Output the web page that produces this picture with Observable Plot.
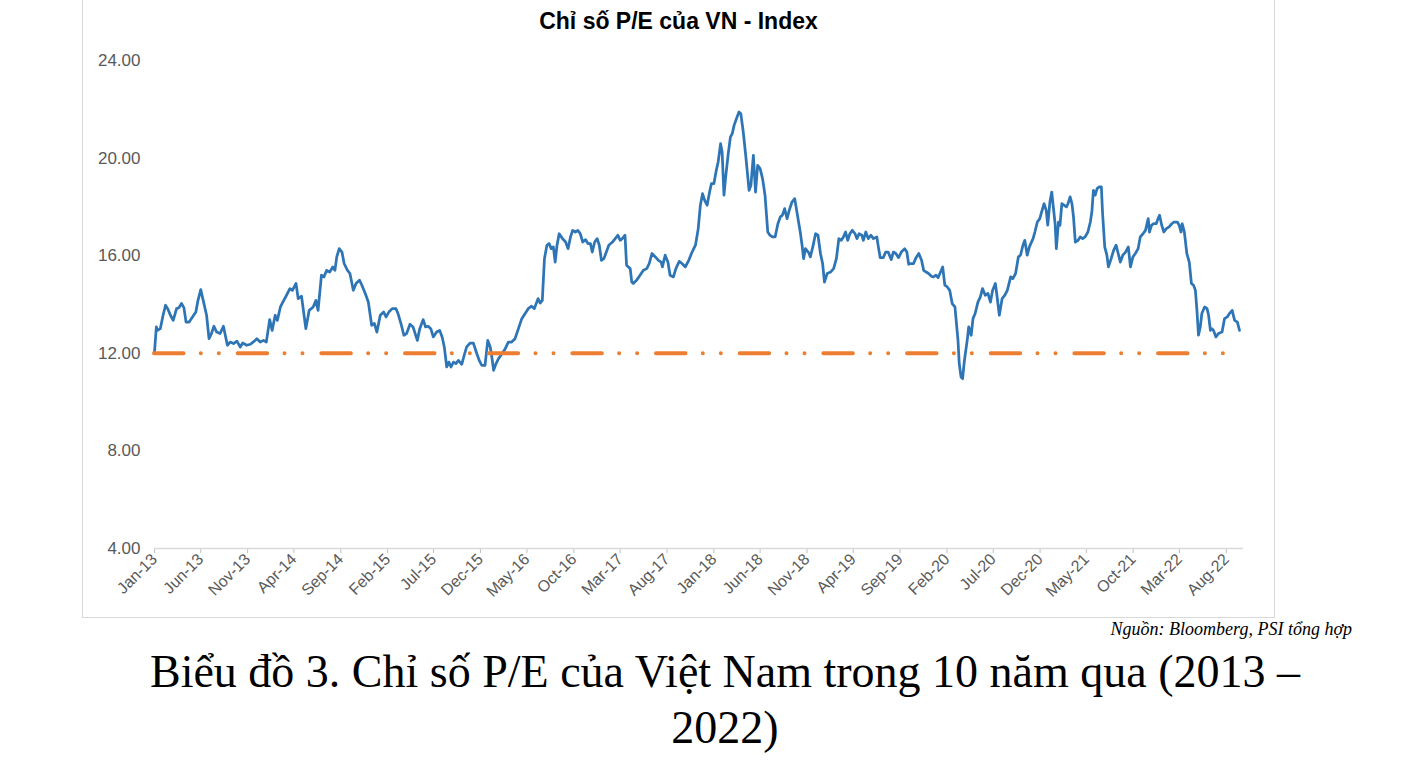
<!DOCTYPE html>
<html><head><meta charset="utf-8">
<script src="https://cdn.jsdelivr.net/npm/d3@7"></script>
<script src="https://cdn.jsdelivr.net/npm/@observablehq/plot@0.6"></script>
<style>
body{margin:0;background:#fff;}
#page{position:relative;width:1404px;height:766px;overflow:hidden;font-family:"Liberation Sans",Arial,sans-serif;}
#frame{position:absolute;left:82px;top:-2px;width:1193px;height:620px;border:1px solid #d9d9d9;box-sizing:border-box;}
#title{position:absolute;left:82px;width:1193px;top:8px;text-align:center;font-weight:bold;font-size:23px;color:#000;}
#chart{position:absolute;left:82px;top:0;}
#source{position:absolute;right:52px;top:619px;font-family:"Liberation Serif","Times New Roman",serif;font-style:italic;font-size:18px;color:#000;}
#caption{position:absolute;left:0;width:1450px;top:644px;text-align:center;font-family:"Liberation Serif","Times New Roman",serif;font-size:46px;line-height:56px;color:#000;}
</style>
</head><body>
<div id="page">
  <div id="frame"></div>
  <div id="title">Chỉ số P/E của VN - Index</div>
  <div id="chart"></div>
  <div id="source">Nguồn: Bloomberg, PSI tổng hợp</div>
  <div id="caption">Biểu đồ 3. Chỉ số P/E của Việt Nam trong 10 năm qua (2013 –<br>2022)</div>
</div>
<script>
const peDates = [
"2013-01-01","2013-01-07","2013-01-11","2013-01-20","2013-01-29","2013-02-06","2013-02-13","2013-02-22","2013-03-03","2013-03-14",
"2013-03-22","2013-03-30","2013-04-07","2013-04-14","2013-04-24","2013-05-05","2013-05-16","2013-05-23","2013-06-01","2013-06-09",
"2013-06-20","2013-06-28","2013-07-06","2013-07-14","2013-07-23","2013-08-03","2013-08-14","2013-08-27","2013-09-05","2013-09-16",
"2013-09-27","2013-10-08","2013-10-16","2013-10-29","2013-11-10","2013-11-23","2013-12-01","2013-12-12","2013-12-23","2014-01-01",
"2014-01-12","2014-01-20","2014-01-30","2014-02-06","2014-02-16","2014-02-27","2014-03-08","2014-03-19","2014-03-27","2014-04-08",
"2014-04-15","2014-04-26","2014-05-10","2014-05-21","2014-06-03","2014-06-12","2014-06-19","2014-06-30","2014-07-08","2014-07-17",
"2014-07-27","2014-08-06","2014-08-13","2014-08-19","2014-08-27","2014-09-05","2014-09-12","2014-09-23","2014-10-01","2014-10-12",
"2014-10-21","2014-11-01","2014-11-09","2014-11-20","2014-11-30","2014-12-11","2014-12-20","2014-12-28","2015-01-08","2015-01-19",
"2015-01-27","2015-02-05","2015-02-16","2015-02-28","2015-03-07","2015-03-18","2015-03-26","2015-04-04","2015-04-15","2015-04-25",
"2015-05-09","2015-05-17","2015-05-28","2015-06-05","2015-06-13","2015-06-22","2015-06-30","2015-07-11","2015-07-21","2015-07-29",
"2015-08-05","2015-08-13","2015-08-20","2015-08-27","2015-09-04","2015-09-12","2015-09-20","2015-10-01","2015-10-09","2015-10-17",
"2015-10-28","2015-11-08","2015-11-19","2015-11-27","2015-12-05","2015-12-16","2015-12-25","2016-01-02","2016-01-08","2016-01-13",
"2016-01-21","2016-01-29","2016-02-10","2016-02-20","2016-03-01","2016-03-12","2016-03-23","2016-04-03","2016-04-14","2016-04-25",
"2016-05-05","2016-05-16","2016-05-25","2016-06-06","2016-06-13","2016-06-20","2016-06-27","2016-07-05","2016-07-12","2016-07-19",
"2016-07-26","2016-08-01","2016-08-07","2016-08-14","2016-08-25","2016-09-04","2016-09-12","2016-09-20","2016-09-27","2016-10-06",
"2016-10-14","2016-10-22","2016-10-30","2016-11-08","2016-11-16","2016-11-24","2016-11-30","2016-12-08","2016-12-16","2016-12-23",
"2016-12-30","2017-01-07","2017-01-15","2017-01-23","2017-02-04","2017-02-13","2017-02-22","2017-03-01","2017-03-08","2017-03-17",
"2017-03-22","2017-04-03","2017-04-08","2017-04-13","2017-04-24","2017-05-05","2017-05-16","2017-05-27","2017-06-04","2017-06-13",
"2017-06-24","2017-07-04","2017-07-13","2017-07-17","2017-07-26","2017-08-04","2017-08-11","2017-08-22","2017-08-30","2017-09-10",
"2017-09-19","2017-09-30","2017-10-11","2017-10-22","2017-11-02","2017-11-11","2017-11-18","2017-11-25","2017-12-02","2017-12-10",
"2017-12-18","2017-12-24","2018-01-01","2018-01-09","2018-01-15","2018-01-23","2018-01-28","2018-02-03","2018-02-08","2018-02-17",
"2018-02-24","2018-03-02","2018-03-08","2018-03-16","2018-03-24","2018-03-30","2018-04-07","2018-04-15","2018-04-26","2018-05-02",
"2018-05-10","2018-05-17","2018-05-24","2018-06-01","2018-06-09","2018-06-17","2018-06-26","2018-07-03","2018-07-11","2018-07-20",
"2018-07-29","2018-08-06","2018-08-13","2018-08-20","2018-08-28","2018-09-04","2018-09-13","2018-09-22","2018-09-29","2018-10-10",
"2018-10-16","2018-10-21","2018-10-27","2018-11-07","2018-11-12","2018-11-20","2018-11-29","2018-12-07","2018-12-15","2018-12-22",
"2018-12-28","2019-01-06","2019-01-17","2019-01-27","2019-02-05","2019-02-13","2019-02-21","2019-02-28","2019-03-07","2019-03-14",
"2019-03-21","2019-03-29","2019-04-07","2019-04-13","2019-04-20","2019-04-29","2019-05-04","2019-05-12","2019-05-20","2019-05-29",
"2019-06-06","2019-06-17","2019-06-22","2019-06-28","2019-07-08","2019-07-16","2019-07-24","2019-08-03","2019-08-10","2019-08-18",
"2019-08-27","2019-09-05","2019-09-16","2019-09-23","2019-09-29","2019-10-07","2019-10-15","2019-10-23","2019-11-01","2019-11-10",
"2019-11-17","2019-11-25","2019-12-03","2019-12-12","2019-12-19","2019-12-27","2020-01-03","2020-01-11","2020-01-18","2020-01-25",
"2020-02-02","2020-02-10","2020-02-18","2020-02-27","2020-03-01","2020-03-08","2020-03-12","2020-03-18","2020-03-23","2020-03-29",
"2020-04-07","2020-04-12","2020-04-20","2020-04-26","2020-05-03","2020-05-12","2020-05-20","2020-05-27","2020-06-05","2020-06-14",
"2020-06-22","2020-06-29","2020-07-08","2020-07-13","2020-07-21","2020-07-30","2020-08-08","2020-08-16","2020-08-27","2020-09-03",
"2020-09-12","2020-09-21","2020-09-28","2020-10-06","2020-10-12","2020-10-20","2020-10-27","2020-11-08","2020-11-14","2020-11-22",
"2020-11-30","2020-12-06","2020-12-14","2020-12-21","2020-12-26","2021-01-02","2021-01-08","2021-01-12","2021-01-19","2021-01-23",
"2021-01-30","2021-02-04","2021-02-10","2021-02-17","2021-02-25","2021-03-02","2021-03-09","2021-03-15","2021-03-20","2021-03-26",
"2021-04-04","2021-04-11","2021-04-19","2021-04-27","2021-05-06","2021-05-14","2021-05-19","2021-05-24","2021-05-30","2021-06-05",
"2021-06-12","2021-06-19","2021-06-23","2021-06-30","2021-07-07","2021-07-12","2021-07-21","2021-07-29","2021-08-06","2021-08-13",
"2021-08-20","2021-08-28","2021-09-06","2021-09-15","2021-09-22","2021-09-30","2021-10-08","2021-10-17","2021-10-24","2021-11-02",
"2021-11-10","2021-11-19","2021-11-23","2021-11-30","2021-12-07","2021-12-15","2021-12-21","2021-12-26","2022-01-02","2022-01-09",
"2022-01-17","2022-01-26","2022-02-04","2022-02-11","2022-02-22","2022-02-28","2022-03-06","2022-03-10","2022-03-17","2022-03-25",
"2022-04-02","2022-04-09","2022-04-16","2022-04-22","2022-04-27","2022-05-02","2022-05-08","2022-05-13","2022-05-22","2022-05-30",
"2022-06-04","2022-06-10","2022-06-15","2022-06-20","2022-06-28","2022-07-06","2022-07-18","2022-07-26","2022-08-04","2022-08-11",
"2022-08-20","2022-08-28","2022-09-06","2022-09-13"
];
const peValues = [
12.05,13.08,12.94,13.01,13.56,13.97,13.83,13.56,13.35,13.83,
13.87,14.04,13.87,13.28,13.28,13.49,13.69,14.17,14.61,14.17,
13.56,12.60,12.81,13.11,12.87,12.81,13.11,12.33,12.46,12.40,
12.50,12.26,12.42,12.33,12.37,12.50,12.60,12.46,12.53,12.46,
13.38,12.94,13.56,13.35,13.90,14.17,14.38,14.65,14.58,14.86,
14.24,14.34,13.01,13.76,13.90,14.17,13.76,15.20,15.13,15.40,
15.33,15.54,15.40,15.95,16.29,16.15,15.68,15.40,15.27,14.58,
14.86,15.00,14.79,14.45,14.10,13.15,13.22,12.87,13.56,13.69,
13.49,13.69,13.83,13.83,13.63,13.15,12.74,12.81,13.19,13.08,
12.53,13.01,13.38,13.08,13.11,13.01,12.67,12.87,12.94,12.67,
12.26,11.44,11.64,11.44,11.64,11.58,11.71,11.55,11.92,12.26,
12.42,12.42,11.99,11.71,11.51,11.51,12.53,12.26,11.78,11.30,
11.58,11.78,11.99,12.19,12.46,12.46,12.60,13.01,13.42,13.63,
13.83,13.93,13.83,14.24,14.06,14.17,15.88,16.43,16.50,16.29,
16.36,15.74,16.43,16.90,16.70,16.56,16.29,16.77,17.04,16.97,
17.04,16.90,16.56,16.66,16.50,16.50,16.15,16.56,16.70,16.43,
15.81,15.88,16.15,16.43,16.56,16.70,16.84,16.63,16.70,16.84,
15.61,15.47,14.92,14.86,15.00,15.20,15.40,15.47,15.68,16.09,
15.95,15.81,15.74,15.54,16.02,15.74,15.20,15.13,15.47,15.77,
15.68,15.54,15.81,16.15,16.43,17.11,18.07,18.54,18.27,18.07,
18.61,18.95,18.95,19.50,19.84,20.59,20.25,18.48,19.16,20.18,
20.86,21.00,21.34,21.62,21.89,21.82,21.07,20.11,18.68,18.89,
20.11,18.61,19.70,19.57,19.16,18.48,16.97,16.84,16.77,16.77,
17.31,17.59,17.66,17.93,17.52,17.86,18.20,18.34,17.80,16.97,
16.43,15.88,16.29,16.12,15.95,16.36,16.90,16.84,16.09,15.68,
14.92,15.27,15.33,15.47,15.88,16.70,16.63,16.77,16.97,16.63,
16.90,17.04,16.90,16.70,16.90,16.84,16.63,16.97,16.70,16.84,
16.70,16.77,16.36,15.92,15.92,16.15,16.15,15.84,16.15,16.09,
15.92,16.15,16.29,16.15,15.65,15.68,15.68,15.92,16.09,15.81,
15.40,15.33,15.27,15.16,15.13,15.20,15.10,15.33,15.54,14.79,
14.72,14.58,14.04,13.90,13.49,12.53,11.58,11.03,10.96,11.71,
12.53,13.08,12.74,13.42,13.63,14.10,14.31,14.65,14.38,14.45,
14.10,14.58,14.86,14.38,13.56,14.24,14.38,14.58,15.13,15.06,
15.27,15.95,16.02,16.43,16.63,16.02,16.36,16.70,16.97,17.38,
17.52,17.80,18.13,17.86,17.25,18.20,18.61,18.13,17.31,16.29,
17.38,17.25,18.13,18.07,18.00,18.13,18.41,18.13,17.59,16.56,
16.63,16.77,16.70,16.77,16.97,17.38,17.80,18.68,18.48,18.75,
18.82,18.82,17.73,16.36,16.02,15.54,15.88,16.22,16.43,16.09,
15.74,16.02,16.15,16.36,15.54,15.95,16.09,16.29,16.77,16.90,
17.04,17.52,16.97,17.25,17.31,17.31,17.52,17.66,17.25,16.97,
17.11,17.18,17.31,17.38,17.38,17.25,16.97,17.31,16.97,16.09,
15.74,14.86,14.79,14.58,13.76,12.74,13.08,13.63,13.90,13.83,
13.56,12.94,13.01,12.94,12.67,12.81,12.87,13.42,13.49,13.63,
13.76,13.35,13.28,12.94
];
const refValue = 12;
const yTicks = [4, 8, 12, 16, 20, 24];
const xTickLabels = ["Jan-13","Jun-13","Nov-13","Apr-14","Sep-14","Feb-15","Jul-15","Dec-15","May-16","Oct-16","Mar-17","Aug-17",
  "Jan-18","Jun-18","Nov-18","Apr-19","Sep-19","Feb-20","Jul-20","Dec-20","May-21","Oct-21","Mar-22","Aug-22"];
const xDomain = ["2013-01-01", "2022-09-26"];

const parseTick = d3.utcParse("%b-%y");
const fmtTick = d3.utcFormat("%b-%y");
const pe = peDates.map((d, i) => ({date: new Date(d + "T00:00:00Z"), pe: peValues[i]}));
const ref = [{y: refValue, x1: pe[0].date, x2: pe[pe.length - 1].date}];
const xTicks = xTickLabels.map(parseTick);

const chart = Plot.plot({
  width: 1193,
  height: 618,
  marginLeft: 72,
  marginRight: 32,
  marginTop: 60,
  marginBottom: 70,
  style: {fontFamily: "'Liberation Sans', Arial, sans-serif", background: "transparent"},
  x: {type: "utc", domain: xDomain.map(d => new Date(d + "T00:00:00Z"))},
  y: {domain: [4, 24]},
  marks: [
    Plot.axisY({ticks: yTicks, tickFormat: d => d.toFixed(2), tickSize: 0, tickPadding: 14, fontSize: 17, fill: "#595959", label: null}),
    Plot.axisX({ticks: xTicks, tickFormat: fmtTick, tickRotate: -45, tickSize: 5, tickPadding: 3, fontSize: 16, fill: "#595959", stroke: "#bfbfbf", label: null}),
    Plot.ruleY([4], {stroke: "#d9d9d9", strokeWidth: 1.5}),
    Plot.lineY(pe, {x: "date", y: "pe", stroke: "#2E75B6", strokeWidth: 2.75, strokeLinejoin: "round"}),
    Plot.ruleY(ref, {y: "y", x1: "x1", x2: "x2", stroke: "#ED7D31", strokeWidth: 4, strokeLinecap: "round", strokeDasharray: "29.5,17.3,0,18,0,18.87"})
  ]
});
document.getElementById("chart").appendChild(chart);
</script>
</body></html>
